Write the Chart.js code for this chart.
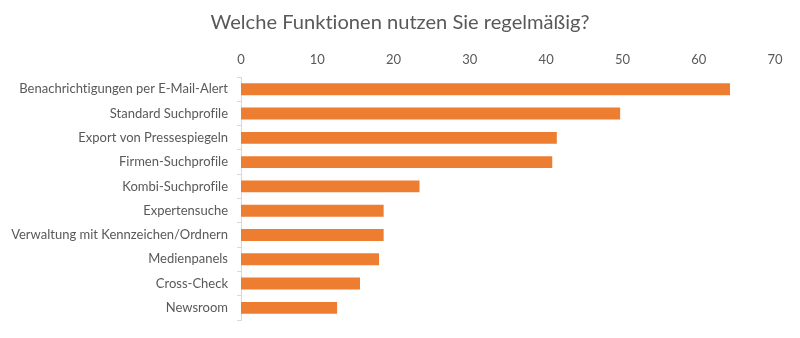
<!DOCTYPE html>
<html>
<head>
<meta charset="utf-8">
<script src="https://cdn.jsdelivr.net/npm/chart.js@4"></script>
<style>
  html, body { margin: 0; padding: 0; background: #fff; }
  #wrap { width: 800px; height: 338px; }
</style>
</head>
<body>
<div id="wrap"><canvas id="myChart" width="800" height="338"></canvas></div>
<script>
var labels = [
    'Benachrichtigungen per E-Mail-Alert',
    'Standard Suchprofile',
    'Export von Pressespiegeln',
    'Firmen-Suchprofile',
    'Kombi-Suchprofile',
    'Expertensuche',
    'Verwaltung mit Kennzeichen/Ordnern',
    'Medienpanels',
    'Cross-Check',
    'Newsroom'
];
var values = [64.1, 49.7, 41.4, 40.8, 23.4, 18.7, 18.7, 18.1, 15.6, 12.6];
var xMin = 0, xMax = 70, xStep = 10;
var titleText = 'Welche Funktionen nutzen Sie regelmäßig?';

var textColor = '#595959';
var barColor = '#ED7D31';
var fontFamily = 'Lato, "Noto Sans", sans-serif';

// no "ti" / "fi" ligatures in the canvas text
var noLigatures = {
    id: 'noLigatures',
    beforeDraw: function (chart) {
        chart.ctx.textRendering = 'optimizeSpeed';
    }
};

// centre the title on the whole canvas, not on the padded area
var fullWidthTitle = {
    id: 'fullWidthTitle',
    afterLayout: function (chart) {
        var t = chart.titleBlock;
        if (!t) return;
        t.left = 0;
        t.right = chart.width;
        t.width = chart.width;
    }
};

new Chart(document.getElementById('myChart'), {
    type: 'bar',
    data: {
        labels: labels,
        datasets: [{
            data: values,
            backgroundColor: barColor,
            borderWidth: 0,
            categoryPercentage: 1,
            barPercentage: 0.49
        }]
    },
    plugins: [noLigatures, fullWidthTitle],
    options: {
        indexAxis: 'y',
        responsive: false,
        animation: false,
        layout: { padding: { left: 0, right: 25, top: 0, bottom: 18 } },
        plugins: {
            legend: { display: false },
            tooltip: { enabled: false },
            title: {
                display: true,
                text: titleText,
                color: textColor,
                font: { family: fontFamily, size: 20.1, weight: 'normal' },
                padding: { top: 10, bottom: 0 }
            }
        },
        scales: {
            x: {
                position: 'top',
                min: xMin,
                max: xMax,
                border: { display: false },
                grid: { display: false, drawTicks: false },
                ticks: {
                    stepSize: xStep,
                    color: textColor,
                    padding: 10,
                    font: { family: fontFamily, size: 13 }
                },
                afterFit: function (scale) { scale.height = 43; }
            },
            y: {
                border: { display: true, color: '#d9d9d9', width: 1 },
                grid: {
                    offset: true,
                    drawOnChartArea: false,
                    drawTicks: true,
                    tickLength: 4,
                    color: '#d9d9d9'
                },
                ticks: {
                    color: textColor,
                    padding: 9,
                    font: { family: fontFamily, size: 13 }
                },
                afterFit: function (scale) { scale.width = 241; }
            }
        }
    }
});
</script>
</body>
</html>
